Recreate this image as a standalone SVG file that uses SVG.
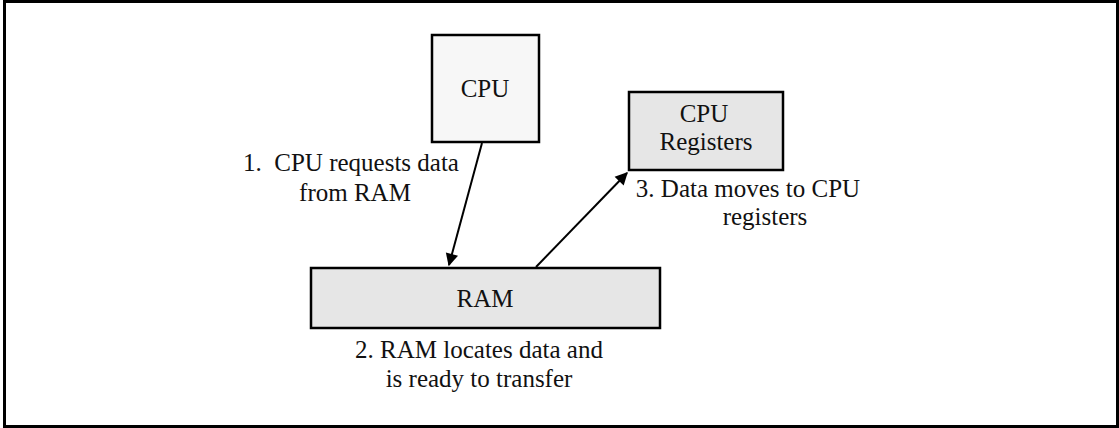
<svg xmlns="http://www.w3.org/2000/svg" width="1119" height="428" viewBox="0 0 1119 428">
<style>
.box{stroke:#000;stroke-width:2.5}
.t{font-family:"Liberation Serif","DejaVu Serif",serif;font-size:25px;fill:#111;text-anchor:middle}
.c{stroke:#000;stroke-width:2;fill:none;marker-end:url(#ah)}
</style>
<defs>
<marker id="ah" viewBox="0 0 10 10" refX="9" refY="5" markerWidth="7" markerHeight="7" markerUnits="userSpaceOnUse" orient="auto" overflow="visible">
<path d="M0,0 L10,5 L0,10 z" fill="#000" transform="scale(1.8) translate(-4,-2.2)"/>
</marker>
</defs>
<rect x="4.5" y="1.5" width="1113" height="425" fill="#fff" stroke="#000" stroke-width="3"/>
<g id="cpu">
<rect class="box" x="432" y="35" width="107" height="107" fill="#f7f7f7"/>
<text class="t" x="485" y="97">CPU</text>
</g>
<g id="registers">
<rect class="box" x="629" y="92" width="154" height="78" fill="#e6e6e6"/>
<text class="t" x="704" y="122">CPU</text>
<text class="t" x="706" y="150">Registers</text>
</g>
<g id="ram">
<rect class="box" x="311" y="268" width="349" height="60" fill="#e6e6e6"/>
<text class="t" x="485" y="307">RAM</text>
</g>
<g id="labels">
<text class="t" x="351" y="171" xml:space="preserve">1.  CPU requests data</text>
<text class="t" x="355" y="201">from RAM</text>
<text class="t" x="479" y="358">2. RAM locates data and</text>
<text class="t" x="479" y="387">is ready to transfer</text>
<text class="t" x="748" y="197">3. Data moves to CPU</text>
<text class="t" x="765" y="225">registers</text>
</g>
<g id="connectors">
<line class="c" x1="482" y1="143" x2="449" y2="265"/>
<line class="c" x1="536" y1="267" x2="627" y2="173"/>
</g>
</svg>
